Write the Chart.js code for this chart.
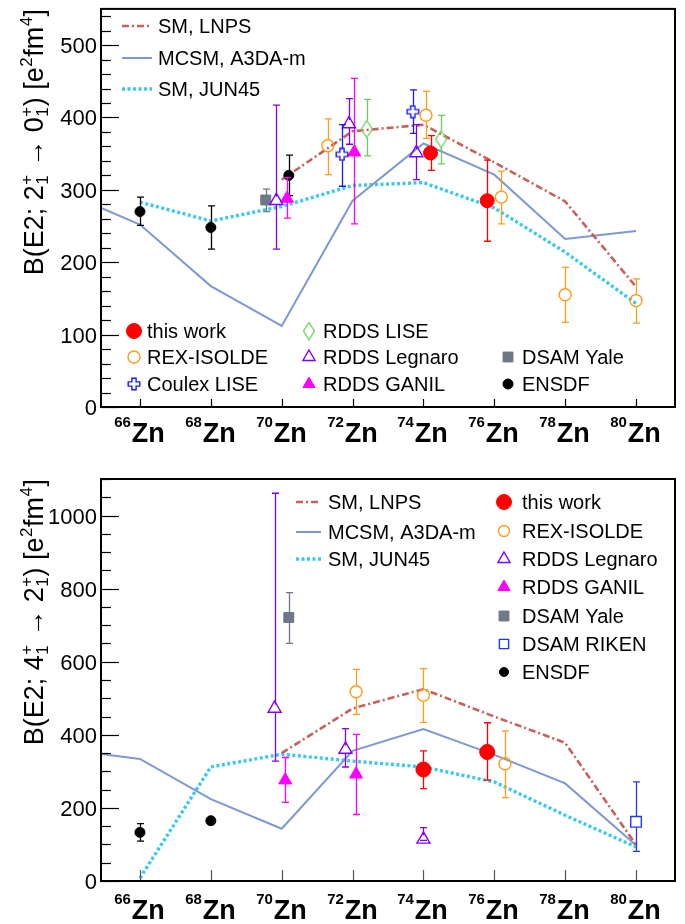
<!DOCTYPE html>
<html>
<head>
<meta charset="utf-8">
<script src="https://cdn.jsdelivr.net/npm/chart.js@4/dist/chart.umd.min.js"></script>
<style>
  body { margin: 0; background: #fff; }
  .panel { width: 685px; height: 462px; }
</style>
</head>
<body>
<div class="panel"><canvas id="chartTop" width="685" height="462"></canvas></div>
<div class="panel"><canvas id="chartBottom" width="685" height="462"></canvas></div>
<script>
// ---- data ----
const massTicks = [66, 68, 70, 72, 74, 76, 78, 80];
const theoryMass = [64, 66, 68, 70, 72, 74, 76, 78, 80];

// B(E2; 2+ -> 0+) theory
const lnps20 = [null, null, null, 314, 381, 390, 338, 284, 166];
const mcsm20 = [294, 252, 167, 112, 285, 364, 321, 232, 243];
const jun4520 = [null, 283, 257, 277, 306, 310, 275, 214, 143];

// B(E2; 4+ -> 2+) theory
const lnps42 = [null, null, null, 350, 472, 525, 450, 378, 99];
const mcsm42 = [358, 334, 224, 143, 356, 416, 345, 267, 98];
const jun4542 = [null, 8, 312, 347, 328, 312, 271, 180, 93];

// measurements: [A (shifted for visibility), value, minus error, plus error]
const thisWork20 = [[74.2, 351, 24, 24], [75.8, 285, 56, 56]];
const rex20 = [[71.3, 361, 40, 37], [74.07, 403, 32, 33], [76.2, 290, 37, 36], [78.0, 155, 38, 38], [80.0, 147, 31, 30]];
const coulex20 = [[71.7, 349, 44, 41], [73.7, 408, 30, 30]];
const legnaro20 = [[69.85, 285, 67, 132], [71.9, 391, 28, 35], [73.8, 351, 37, 39]];
const ganil20 = [[70.15, 288, 27, 29], [72.05, 352, 99, 102]];
const rddsLise20 = [[72.4, 384, 37, 41], [74.5, 370, 34, 33]];
const yale20 = [[69.55, 286, 16, 15]];
const ensdf20 = [[66.0, 270, 19, 20], [68.0, 248, 30, 30], [70.2, 320, 28, 28]];

const thisWork42 = [[74.0, 305, 52, 51], [75.8, 353, 77, 80]];
const rex42 = [[72.1, 518, 62, 61], [74.0, 508, 74, 73], [76.3, 321, 93, 90]];
const legnaro42 = [[69.8, 472, 144, 589], [71.8, 360, 48, 57], [74.0, 114, 3, 32]];
const ganil42 = [[70.1, 276, 61, 62], [72.1, 292, 110, 109]];
const yale42 = [[70.2, 721, 71, 68]];
const riken42 = [[80.0, 162, 81, 109]];
const ensdf42 = [[66.0, 133, 24, 24], [68.0, 165, 0, 0]];

// ---- marker images for the ROOT-like open cross and diamond ----
function openCross(color) {
  const c = document.createElement('canvas');
  c.width = 14; c.height = 14;
  const g = c.getContext('2d');
  const m = 7, h = 5.8, t = 2.1;
  g.strokeStyle = color; g.lineWidth = 1.4;
  g.beginPath();
  g.moveTo(m - t, m - h); g.lineTo(m + t, m - h); g.lineTo(m + t, m - t); g.lineTo(m + h, m - t);
  g.lineTo(m + h, m + t); g.lineTo(m + t, m + t); g.lineTo(m + t, m + h); g.lineTo(m - t, m + h);
  g.lineTo(m - t, m + t); g.lineTo(m - h, m + t); g.lineTo(m - h, m - t); g.lineTo(m - t, m - t);
  g.closePath(); g.stroke();
  return c;
}
function openDiamond(color) {
  const c = document.createElement('canvas');
  c.width = 14; c.height = 19;
  const g = c.getContext('2d');
  g.strokeStyle = color; g.lineWidth = 1.3;
  g.beginPath();
  g.moveTo(7, 1); g.lineTo(12.5, 9.5); g.lineTo(7, 18); g.lineTo(1.5, 9.5);
  g.closePath(); g.stroke();
  return c;
}

const C = {
  lnps: '#c8605c', mcsm: '#7d99d3', jun: '#38c8f2',
  red: '#ff0000', orange: '#ff9a1a', blue: '#1a1aff', violet: '#8000ff',
  magenta: '#ff00ff', green: '#66d15a', gray: '#6c7885', riken: '#2038ff', black: '#000000'
};

function theory(label, values, color, width, dash) {
  return {
    label, data: theoryMass.map((m, i) => ({ x: m, y: values[i] })).filter(p => p.y !== null),
    showLine: true, borderColor: color, backgroundColor: color, borderWidth: width,
    borderDash: dash, pointRadius: 0, order: 10, fill: false
  };
}
function measured(label, rows, style, color, radius, filled, gap) {
  return {
    label, data: rows.map(r => ({ x: r[0], y: r[1] })), errs: rows.map(r => [r[2], r[3]]),
    pointStyle: style, pointRadius: radius, borderColor: color,
    backgroundColor: filled ? color : 'rgba(0,0,0,0)', borderWidth: filled ? 1 : 1.4,
    order: 0, gap: gap
  };
}

// ---- plugins ----
const errorBars = {
  id: 'errorBars',
  beforeDatasetDraw(chart, args) {
    const ds = chart.data.datasets[args.index];
    if (!ds.errs) return;
    const ctx = chart.ctx, xs = chart.scales.x, ys = chart.scales.y;
    ctx.save();
    ctx.strokeStyle = ds.borderColor;
    ctx.lineWidth = 1.3;
    ds.data.forEach((p, i) => {
      const [lo, hi] = ds.errs[i];
      const px = Math.round(xs.getPixelForValue(p.x)) + 0.5;
      const pc = ys.getPixelForValue(p.y);
      const pt = ys.getPixelForValue(p.y + hi);
      const pb = ys.getPixelForValue(p.y - lo);
      ctx.beginPath();
      if (pc - ds.gap > pt) { ctx.moveTo(px, pt); ctx.lineTo(px, pc - ds.gap); }
      if (pc + ds.gap < pb) { ctx.moveTo(px, pc + ds.gap); ctx.lineTo(px, pb); }
      if (hi > 0) { ctx.moveTo(px - 3.5, pt); ctx.lineTo(px + 3.5, pt); }
      if (lo > 0) { ctx.moveTo(px - 3.5, pb); ctx.lineTo(px + 3.5, pb); }
      ctx.stroke();
    });
    ctx.restore();
  }
};

function richWidth(ctx, parts, size) {
  let w = 0;
  parts.forEach(p => {
    if (p.t !== undefined) { ctx.font = size + 'px "Liberation Sans"'; w += ctx.measureText(p.t).width; }
    else {
      ctx.font = Math.round(size * 0.62) + 'px "Liberation Sans"';
      w += Math.max(ctx.measureText(p.sup || '').width, ctx.measureText(p.sub || '').width) + 1;
    }
  });
  return w;
}
function drawRich(ctx, parts, x, y, size) {
  parts.forEach(p => {
    if (p.t !== undefined) {
      ctx.font = size + 'px "Liberation Sans"';
      ctx.fillText(p.t, x, y);
      x += ctx.measureText(p.t).width;
    } else {
      ctx.font = Math.round(size * 0.62) + 'px "Liberation Sans"';
      let w = 0;
      if (p.sup) { ctx.fillText(p.sup, x + 0.5, y - size * 0.42); w = ctx.measureText(p.sup).width; }
      if (p.sub) { ctx.fillText(p.sub, x + 0.5, y + size * 0.2); w = Math.max(w, ctx.measureText(p.sub).width); }
      x += w + 1;
    }
  });
}

const rootAxes = {
  id: 'rootAxes',
  afterDraw(chart, args, o) {
    const { ctx, chartArea: a } = chart;
    const xs = chart.scales.x, ys = chart.scales.y;
    ctx.save();
    ctx.strokeStyle = '#000';
    ctx.fillStyle = '#000';
    // y ticks
    ctx.lineWidth = 1.2;
    for (let v = 0; v <= ys.max + 1e-6; v += o.minor) {
      const py = Math.round(ys.getPixelForValue(v)) + 0.5;
      const major = Math.abs(v / o.major - Math.round(v / o.major)) < 1e-6;
      ctx.beginPath(); ctx.moveTo(a.left, py); ctx.lineTo(a.left + (major ? 18 : 10), py); ctx.stroke();
    }
    ctx.font = '22px "Liberation Sans"';
    ctx.textAlign = 'right';
    o.yLabels.forEach(v => ctx.fillText(String(v), a.left - 4, ys.getPixelForValue(v) + 8));
    // x ticks and isotope labels
    ctx.strokeStyle = o.xTickColor;
    massTicks.forEach(m => {
      const px = Math.round(xs.getPixelForValue(m)) + 0.5;
      ctx.beginPath(); ctx.moveTo(px, a.bottom); ctx.lineTo(px, a.bottom - o.xTickLen); ctx.stroke();
      ctx.textAlign = 'left';
      ctx.font = 'bold 15px "Liberation Sans"';
      const ws = ctx.measureText(String(m)).width;
      ctx.font = 'bold 27px "Liberation Sans"';
      const wz = ctx.measureText('Zn').width;
      const x0 = px - (ws + 1 + wz) / 2 - 1;
      ctx.fillText('Zn', x0 + ws + 1, a.bottom + o.labelDrop);
      ctx.font = 'bold 15px "Liberation Sans"';
      ctx.fillText(String(m), x0, a.bottom + o.labelDrop - 15);
    });
    // frame
    ctx.strokeStyle = '#000';
    ctx.lineWidth = 2;
    ctx.strokeRect(a.left, a.top, a.right - a.left, a.bottom - a.top);
    // rotated y title, right-aligned to the top of the frame
    ctx.translate(43, a.top);
    ctx.rotate(-Math.PI / 2);
    ctx.textAlign = 'left';
    const w = richWidth(ctx, o.title, 27);
    drawRich(ctx, o.title, -w, 0, 27);
    ctx.restore();
  }
};

const rootLegend = {
  id: 'rootLegend',
  afterDraw(chart, args, o) {
    const ctx = chart.ctx;
    const find = l => chart.data.datasets.find(d => d.label === l);
    ctx.save();
    ctx.font = '20px "Liberation Sans"';
    ctx.fillStyle = '#000';
    ctx.textAlign = 'left';
    o.lines.forEach(e => {
      const ds = find(e.label);
      ctx.save();
      ctx.strokeStyle = ds.borderColor; ctx.lineWidth = ds.borderWidth;
      ctx.setLineDash(ds.borderDash || []);
      ctx.beginPath(); ctx.moveTo(e.x0, e.y); ctx.lineTo(e.x1, e.y); ctx.stroke();
      ctx.restore();
      ctx.fillText(e.label, e.tx, e.y + 7);
    });
    o.marks.forEach(e => {
      const ds = find(e.label);
      ctx.save();
      ctx.fillStyle = ds.backgroundColor; ctx.strokeStyle = ds.borderColor; ctx.lineWidth = ds.borderWidth;
      Chart.helpers.drawPoint(ctx, { pointStyle: ds.pointStyle, radius: e.r || ds.pointRadius, borderWidth: ds.borderWidth, rotation: 0 }, e.x, e.y);
      ctx.restore();
      ctx.fillText(e.label, e.tx, e.y + 7);
    });
    ctx.restore();
  }
};

function baseOptions(yMax, pad) {
  return {
    responsive: false, animation: false, events: [],
    layout: { padding: pad },
    scales: {
      x: { type: 'linear', min: 64.9, max: 81.1, display: false },
      y: { type: 'linear', min: 0, max: yMax, display: false }
    },
    plugins: { legend: { display: false }, tooltip: { enabled: false } }
  };
}

// ---- top panel: B(E2; 2+ -> 0+) ----
const optTop = baseOptions(550, { left: 101, right: 10, top: 6, bottom: 55 });
optTop.plugins.rootAxes = {
  minor: 20, major: 100, yLabels: [0, 100, 200, 300, 400, 500], xTickLen: 8, xTickColor: '#000', labelDrop: 35,
  title: [{ t: 'B(E2; 2' }, { sup: '+', sub: '1' }, { t: ' \u2192 0' }, { sup: '+', sub: '1' }, { t: ') [e' }, { sup: '2' }, { t: 'fm' }, { sup: '4' }, { t: ']' }]
};
optTop.plugins.rootLegend = {
  lines: [
    { label: 'SM, LNPS', x0: 122, x1: 152, tx: 158, y: 26 },
    { label: 'MCSM, A3DA-m', x0: 122, x1: 152, tx: 158, y: 58 },
    { label: 'SM, JUN45', x0: 122, x1: 152, tx: 158, y: 89 }
  ],
  marks: [
    { label: 'this work', x: 134, tx: 147, y: 331, r: 7.5 },
    { label: 'REX-ISOLDE', x: 134, tx: 147, y: 357 },
    { label: 'Coulex LISE', x: 134, tx: 147, y: 384 },
    { label: 'RDDS LISE', x: 309, tx: 323, y: 331 },
    { label: 'RDDS Legnaro', x: 309, tx: 323, y: 357, r: 7 },
    { label: 'RDDS GANIL', x: 309, tx: 323, y: 384, r: 7 },
    { label: 'DSAM Yale', x: 508, tx: 522, y: 357 },
    { label: 'ENSDF', x: 508, tx: 522, y: 384 }
  ]
};
new Chart(document.getElementById('chartTop'), {
  type: 'scatter',
  data: {
    datasets: [
      theory('SM, LNPS', lnps20, C.lnps, 2.6, [7, 3, 2, 3]),
      theory('MCSM, A3DA-m', mcsm20, C.mcsm, 2, []),
      theory('SM, JUN45', jun4520, C.jun, 3.4, [3, 2.5]),
      measured('this work', thisWork20, 'circle', C.red, 7, true, 0),
      measured('REX-ISOLDE', rex20, 'circle', C.orange, 6, false, 6),
      measured('Coulex LISE', coulex20, openCross(C.blue), C.blue, 6, false, 6),
      measured('RDDS Legnaro', legnaro20, 'triangle', C.violet, 7.5, false, 4),
      measured('RDDS GANIL', ganil20, 'triangle', C.magenta, 7.5, true, 0),
      measured('RDDS LISE', rddsLise20, openDiamond(C.green), C.green, 6, false, 8.5),
      measured('DSAM Yale', yale20, 'rect', C.gray, 7, true, 0),
      measured('ENSDF', ensdf20, 'circle', C.black, 5, true, 0)
    ]
  },
  options: optTop,
  plugins: [errorBars, rootAxes, rootLegend]
});

// ---- bottom panel: B(E2; 4+ -> 2+) ----
const optBottom = baseOptions(1100, { left: 101, right: 10, top: 17, bottom: 43 });
optBottom.plugins.rootAxes = {
  minor: 50, major: 200, yLabels: [0, 200, 400, 600, 800, 1000], xTickLen: 11, xTickColor: '#555', labelDrop: 38,
  title: [{ t: 'B(E2; 4' }, { sup: '+', sub: '1' }, { t: ' \u2192 2' }, { sup: '+', sub: '1' }, { t: ') [e' }, { sup: '2' }, { t: 'fm' }, { sup: '4' }, { t: ']' }]
};
optBottom.plugins.rootLegend = {
  lines: [
    { label: 'SM, LNPS', x0: 296, x1: 321, tx: 328, y: 40 },
    { label: 'MCSM, A3DA-m', x0: 296, x1: 321, tx: 328, y: 70 },
    { label: 'SM, JUN45', x0: 296, x1: 321, tx: 328, y: 97 }
  ],
  marks: [
    { label: 'this work', x: 504, tx: 522, y: 40 },
    { label: 'REX-ISOLDE', x: 504, tx: 522, y: 69, r: 5.5 },
    { label: 'RDDS Legnaro', x: 504, tx: 522, y: 97, r: 7 },
    { label: 'RDDS GANIL', x: 504, tx: 522, y: 125, r: 7 },
    { label: 'DSAM Yale', x: 504, tx: 522, y: 154 },
    { label: 'DSAM RIKEN', x: 504, tx: 522, y: 182, r: 6.5 },
    { label: 'ENSDF', x: 504, tx: 522, y: 210, r: 4.5 }
  ]
};
new Chart(document.getElementById('chartBottom'), {
  type: 'scatter',
  data: {
    datasets: [
      theory('SM, LNPS', lnps42, C.lnps, 2.6, [7, 3, 2, 3]),
      theory('MCSM, A3DA-m', mcsm42, C.mcsm, 2, []),
      theory('SM, JUN45', jun4542, C.jun, 3.4, [3, 2.5]),
      measured('this work', thisWork42, 'circle', C.red, 7.5, true, 0),
      measured('REX-ISOLDE', rex42, 'circle', C.orange, 6, false, 6),
      measured('RDDS Legnaro', legnaro42, 'triangle', C.violet, 7.5, false, 4),
      measured('RDDS GANIL', ganil42, 'triangle', C.magenta, 7.5, true, 0),
      measured('DSAM Yale', yale42, 'rect', C.gray, 7, true, 0),
      measured('DSAM RIKEN', riken42, 'rect', C.riken, 7.5, false, 5.5),
      measured('ENSDF', ensdf42, 'circle', C.black, 5, true, 0)
    ]
  },
  options: optBottom,
  plugins: [errorBars, rootAxes, rootLegend]
});
</script>
</body>
</html>
